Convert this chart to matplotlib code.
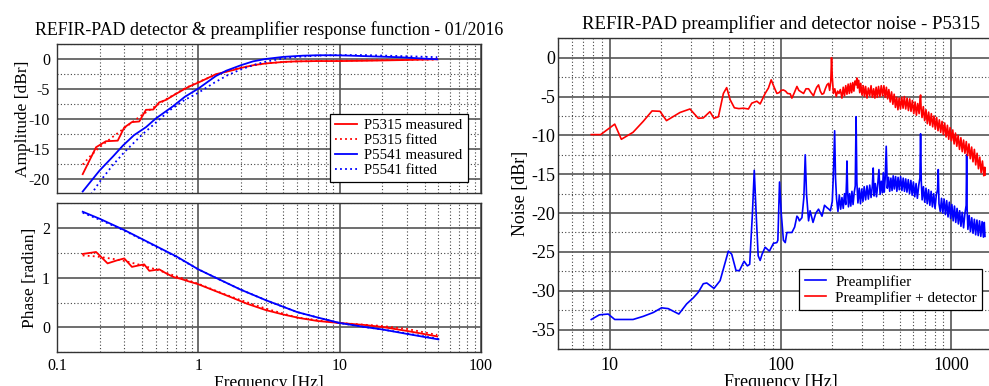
import matplotlib
matplotlib.use("Agg")
import matplotlib.pyplot as plt
from matplotlib.ticker import FixedLocator, FixedFormatter, LogLocator, MultipleLocator, NullFormatter

plt.rcParams['font.family'] = ['Liberation Serif', 'DejaVu Serif']
plt.rcParams['axes.unicode_minus'] = False

RED = '#ff0000'
BLUE = '#0000ff'

# --- response function: amplitude [dBr] ---
freq_p5315 = [0.152, 0.189, 0.222, 0.269, 0.299, 0.339, 0.382, 0.426, 0.480, 0.529,
              0.590, 0.676, 0.795, 0.863, 1.01, 1.33, 1.77, 2.0, 2.5, 3.0, 4.0, 5.0,
              7.0, 10, 15, 20, 30, 49]
amp_p5315_meas = [-19.2, -14.7, -13.7, -13.6, -11.4, -10.5, -10.4, -8.45, -8.4, -7.2,
                  -6.8, -5.95, -5.0, -4.55, -3.85, -2.5, -1.8, -1.45, -0.95, -0.7, -0.45,
                  -0.35, -0.3, -0.3, -0.25, -0.2, -0.12, 0.0]
freq_p5315_fit = [0.152, 0.17, 0.2, 0.25, 0.3, 0.35, 0.4, 0.5, 0.6, 0.7, 0.8, 1.0, 1.3,
                  1.6, 2.0, 2.5, 3.0, 4.0, 5.0, 7.0, 10, 20, 49]
amp_p5315_fit = [-17.6, -16.3, -14.7, -12.9, -11.5, -10.3, -9.3, -7.8, -6.6, -5.7, -4.9,
                 -3.8, -2.7, -2.0, -1.4, -1.0, -0.7, -0.45, -0.35, -0.3, -0.25, -0.15, -0.05]

freq_p5541 = [0.152, 0.2, 0.25, 0.292, 0.35, 0.426, 0.5, 0.658, 0.8, 1.0, 1.33, 1.58,
              2.0, 2.44, 3.0, 4.0, 5.5, 7.0, 9.0, 12, 17, 27, 40, 49]
amp_p5541_meas = [-22.1, -18.6, -16.2, -14.45, -12.7, -11.35, -9.9, -7.9, -6.3, -4.9,
                  -2.8, -1.9, -1.0, -0.35, 0.05, 0.4, 0.6, 0.67, 0.67, 0.6, 0.48, 0.33,
                  0.1, 0.0]
freq_p5541_fit = [0.165, 0.179, 0.2, 0.25, 0.3, 0.4, 0.5, 0.63, 0.8, 1.0, 1.3, 1.6, 2.0,
                  2.5, 3.0, 4.0, 5.0, 7.0, 10, 15, 20, 30, 49]
amp_p5541_fit = [-23.2, -22.2, -20.5, -17.6, -15.5, -12.6, -10.6, -8.5, -6.8, -5.6, -3.9,
                 -2.7, -1.7, -0.9, -0.4, 0.15, 0.4, 0.6, 0.7, 0.7, 0.62, 0.5, 0.35]

# --- response function: phase [radian] ---
freq_ph_p5315 = [0.152, 0.189, 0.228, 0.265, 0.299, 0.339, 0.38, 0.414, 0.45, 0.529, 0.6,
                 0.676, 0.75, 0.85, 1.0, 1.33, 1.77, 2.2, 3.0, 4.0, 5.2, 7.0, 10, 15, 20,
                 30, 49]
ph_p5315_meas = [1.48, 1.52, 1.29, 1.35, 1.39, 1.22, 1.25, 1.27, 1.14, 1.17, 1.08, 1.01,
                 0.98, 0.93, 0.87, 0.73, 0.59, 0.48, 0.35, 0.26, 0.19, 0.13, 0.09, 0.05,
                 0.01, -0.07, -0.18]
freq_ph_p5315_fit = [0.152, 0.19, 0.25, 0.3, 0.4, 0.5, 0.7, 1.0, 1.5, 2.0, 3.0, 5.0, 10,
                     20, 30, 49]
ph_p5315_fit = [1.45, 1.43, 1.38, 1.34, 1.25, 1.17, 1.03, 0.88, 0.68, 0.55, 0.38, 0.2,
                0.09, 0.03, -0.03, -0.15]

freq_ph_p5541 = [0.152, 0.2, 0.3, 0.5, 0.7, 1.0, 1.33, 2.0, 3.0, 5.0, 7.0, 10, 15, 20,
                 30, 50]
ph_p5541_meas = [2.33, 2.19, 1.96, 1.64, 1.43, 1.17, 1.0, 0.76, 0.55, 0.31, 0.2, 0.09,
                 0.01, -0.04, -0.13, -0.24]
ph_p5541_fit = [2.31, 2.17, 1.95, 1.63, 1.42, 1.17, 1.0, 0.76, 0.55, 0.31, 0.2, 0.09,
                0.01, -0.04, -0.12, -0.23]

# --- noise spectra [dBr] ---
freq_pre = [7.8, 8.7, 9.8, 10.7, 12, 13.7, 15.7, 18, 20.1, 22, 25.4, 28.2, 30.9, 33,
            35.3, 37, 40.8, 44.3, 46.3, 49.5, 51.8, 54.9, 57.5, 61.2, 64, 66, 68.5, 70.2,
            72, 74, 76, 78, 81.3, 86.1, 90.9, 95.2, 96.5, 98.7, 101, 104, 106.6, 109,
            114, 116.6, 121, 124.8, 127, 129, 133.5, 137, 139.6, 142, 146, 149, 155,
            161, 167, 175, 181, 187, 192, 196, 201, 204, 207.5, 210, 213,
            217, 221, 225, 229, 233, 237, 241, 243.5, 245, 247, 250, 254, 258, 262,
            266, 270, 274, 277, 280, 284, 289, 294, 299, 304, 309, 315, 321, 327, 333,
            339, 345, 349, 353, 359, 365, 371, 377, 383, 389, 395, 400, 405, 410, 416,
            422, 429, 436, 443, 450, 457, 464, 472, 480, 488, 496, 505, 514, 523, 532,
            541, 550, 560, 570, 580, 590, 600, 611, 622, 633, 645, 655, 661, 667, 675,
            687, 699, 711, 723, 736, 749, 762, 775, 789, 803, 817, 831, 839, 847, 862,
            877, 892, 908, 924, 940, 957, 974, 991, 1008, 1026, 1044, 1062, 1081, 1100,
            1119, 1139, 1159, 1180, 1201, 1222, 1230, 1238, 1251, 1273, 1295, 1318,
            1341, 1365, 1389, 1413, 1438, 1463, 1489, 1515, 1542, 1560, 1575]
noise_pre = [-33.7, -33.1, -33.0, -33.7, -33.7, -33.7, -33.3, -32.8, -32.2, -32.3, -33.0,
             -31.7, -30.9, -30.2, -29.1, -29.0, -29.7, -28.7, -27.2, -24.9, -25.3, -27.4,
             -27.4, -26.2, -26.8, -26.6, -20.0, -14.5, -20.0, -25.5, -26.1, -25.3, -24.4,
             -24.9, -23.9, -23.8, -23.5, -16.0, -20.0, -23.5, -23.8, -22.5, -22.5, -22.5,
             -21.8, -20.4, -20.6, -21.0, -20.6, -18.0, -12.5, -17.5, -21.0, -19.7, -21.2,
             -20.0, -19.5, -20.4, -19.0, -19.3, -19.5, -19.7, -18.5, -15.0, -9.4, -15.5,
             -18.2,
             -19.8, -17.7, -19.5, -18.0, -19.4, -17.5, -18.9, -16.0, -13.3, -17.0, -19.2,
             -17.5, -19.1, -17.2, -18.9, -17.4, -16.5, -7.6, -16.0, -18.7, -16.8, -18.8,
             -16.9, -18.5, -16.6, -18.3, -16.5, -18.2, -16.4, -18.0, -16.5, -14.2, -17.8,
             -16.2, -17.9, -16.3, -14.4, -17.6, -15.9, -17.4, -14.8, -17.3, -15.6, -11.4,
             -16.8, -15.4, -17.2, -15.5, -17.1, -15.2, -16.9, -15.3, -17.2, -15.4, -17.0,
             -15.3, -17.1, -15.5, -17.2, -15.6, -17.3, -15.7, -17.5, -15.8, -17.7, -16.0,
             -17.9, -16.2, -18.1, -16.4, -15.5, -9.8, -15.8, -18.3, -16.6, -18.6, -16.8,
             -18.8, -17.0, -19.0, -17.2, -19.2, -17.5, -19.4, -17.7, -17.0, -14.4, -18.8,
             -19.8, -18.1, -20.0, -18.2, -20.2, -18.4, -20.5, -18.6, -20.7, -18.9, -21.0,
             -19.1, -21.2, -19.4, -21.4, -19.7, -21.7, -19.9, -21.9, -20.1, -19.0, -12.5,
             -19.5, -22.1, -20.3, -22.4, -20.6, -22.6, -20.8, -22.8, -20.9, -22.9, -21.0,
             -23.0, -21.1, -23.1, -21.2, -23.0]

freq_det = [7.8, 8.85, 10.7, 11.7, 13.7, 15.7, 17.7, 19.7, 21.5, 25.8, 29.5, 33, 35.3,
            38.6, 40.8, 43.3, 46.3, 48.4, 50.7, 53.7, 57, 60.7, 64.9, 67.9, 72.7, 76,
            81.3, 85, 88.2, 91.8, 95.2, 98, 101, 104, 107, 110, 114, 116.6, 120, 124.8,
            128, 132, 136.5, 141, 146, 151, 156, 160, 163, 167, 171, 175, 179, 183, 187,
            191, 194, 197, 199, 201, 204, 208, 212, 216, 220, 224,
            229, 233, 237, 241, 245, 249, 253, 257, 261, 265, 269, 273, 277, 280, 283,
            287, 291, 295, 300, 305, 310, 315, 321, 327, 333, 339, 345, 351, 357, 363,
            369, 375, 382, 389, 396, 403, 410, 417, 424, 431, 439, 447, 455, 463, 471,
            479, 487, 495, 504, 513, 522, 531, 541, 551, 561, 571, 581, 592, 603, 614,
            625, 636, 648, 656, 661, 666, 674, 686, 698, 711, 724, 737, 750, 764, 778,
            792, 806, 821, 836, 851, 867, 883, 899, 915, 932, 949, 966, 984, 1002, 1020,
            1039, 1058, 1077, 1097, 1117, 1138, 1159, 1180, 1202, 1224, 1246, 1269, 1292,
            1316, 1340, 1365, 1390, 1416, 1442, 1468, 1495, 1522, 1550, 1570, 1580]
noise_det = [-9.9, -9.9, -8.55, -10.5, -9.6, -8.2, -6.85, -6.9, -8.1, -7.05, -6.6, -7.8,
             -7.75, -6.95, -7.8, -7.6, -4.6, -3.85, -5.4, -6.45, -6.55, -6.5, -6.6, -5.85,
             -5.6, -5.95, -4.6, -3.9, -2.85, -3.8, -4.6, -4.5, -4.2, -4.15, -4.3, -4.6,
             -4.65, -5.2, -4.6, -3.7, -4.2, -4.4, -4.6, -4.0, -4.0, -4.5, -4.9, -4.2, -3.8,
             -3.5, -4.3, -4.7, -4.6, -4.0, -3.5, -3.3, -4.2, -3.0, 0.0, -2.5, -4.6, -4.0,
             -5.0, -4.3, -4.6, -4.1,
             -5.2, -3.8, -4.9, -3.6, -4.7, -3.4, -4.6, -3.3, -4.5, -3.2, -4.3, -3.0, -3.5,
             -2.6, -3.9, -2.9, -4.5, -3.3, -4.8, -3.6, -5.0, -3.7, -5.2, -3.9, -4.9, -3.6,
             -5.1, -4.0, -5.2, -3.8, -5.1, -3.7, -5.0, -3.6, -4.9, -3.6, -5.1, -3.8, -5.3,
             -4.1, -5.7, -4.4, -6.0, -4.7, -6.4, -5.1, -6.7, -5.2, -6.6, -5.1, -6.5, -5.0,
             -6.6, -5.2, -6.8, -5.3, -6.9, -5.5, -7.2, -5.7, -7.4, -5.9, -7.2, -5.4, -4.8,
             -6.6, -7.7, -6.3, -8.1, -6.7, -8.5, -7.0, -8.7, -7.2, -8.9, -7.5, -9.2, -7.7,
             -9.4, -8.0, -9.6, -8.2, -9.9, -8.4, -10.2, -8.7, -10.5, -9.0, -10.7, -9.3,
             -11.1, -9.7, -11.4, -10.0, -11.8, -10.3, -12.1, -10.6, -12.3, -10.8, -12.6,
             -11.1, -13.0, -11.5, -13.4, -11.8, -13.8, -12.3, -14.3, -12.8, -14.8, -13.3,
             -15.2, -14.1, -15.1]

fit_style = (0, (1, 1.8))


def style_axes(ax, ymajor, yminor, tick_size, ypad):
    ax.set_xscale('log')
    ax.xaxis.set_minor_locator(LogLocator(base=10, subs=range(2, 10), numticks=50))
    ax.xaxis.set_minor_formatter(NullFormatter())
    ax.yaxis.set_major_locator(MultipleLocator(ymajor))
    ax.yaxis.set_minor_locator(MultipleLocator(yminor))
    ax.grid(which='major', color='#555555', linewidth=1.2, linestyle='-')
    ax.grid(which='minor', color='#444444', linewidth=0.8, linestyle=(0, (1, 2)))
    ax.tick_params(which='both', length=0, labelsize=tick_size)
    ax.tick_params(axis='y', pad=ypad)
    ax.set_axisbelow(True)
    for sp in ax.spines.values():
        sp.set_color('#333333')
        sp.set_linewidth(1.0)


fig = plt.figure(figsize=(9.89, 3.86), dpi=100)
W, H = 989.0, 386.0

ax_amp = fig.add_axes([57 / W, 1 - 193.3 / H, 424 / W, 149 / H])
ax_ph = fig.add_axes([57 / W, 1 - 352.3 / H, 424 / W, 149 / H])
ax_noise = fig.add_axes([558.3 / W, 1 - 349 / H, 444.4 / W, 310.7 / H])

# amplitude
style_axes(ax_amp, 5, 2.5, 11.5, 5)
ax_amp.plot(freq_p5315, amp_p5315_meas, color=RED, lw=1.3, label='P5315 measured')
ax_amp.plot(freq_p5315_fit, amp_p5315_fit, color=RED, lw=1.3, ls=fit_style, label='P5315 fitted')
ax_amp.plot(freq_p5541, amp_p5541_meas, color=BLUE, lw=1.3, label='P5541 measured')
ax_amp.plot(freq_p5541_fit, amp_p5541_fit, color=BLUE, lw=1.3, ls=fit_style, label='P5541 fitted')
ax_amp.set_xlim(0.1, 100)
ax_amp.set_ylim(-22.4, 2.5)
ax_amp.xaxis.set_major_locator(FixedLocator([0.1, 1, 10, 100]))
ax_amp.xaxis.set_major_formatter(NullFormatter())
ax_amp.set_ylabel('Amplitude [dBr]', fontsize=12.5)
ax_amp.yaxis.set_label_coords(-0.062, 0.5)
ax_amp.set_title('REFIR-PAD detector & preamplifier response function - 01/2016',
                 fontsize=12.9, pad=7)
leg = ax_amp.legend(loc='lower right', bbox_to_anchor=(0.969, 0.076), borderaxespad=0,
                    fontsize=10.6, fancybox=False, framealpha=1, edgecolor='black',
                    handlelength=1.5, handletextpad=0.5, labelspacing=0.1,
                    borderpad=0.35)
leg.get_frame().set_linewidth(0.9)

# phase
style_axes(ax_ph, 1, 0.5, 11.5, 5)
ax_ph.plot(freq_ph_p5315, ph_p5315_meas, color=RED, lw=1.3)
ax_ph.plot(freq_ph_p5315_fit, ph_p5315_fit, color=RED, lw=1.3, ls=fit_style)
ax_ph.plot(freq_ph_p5541, ph_p5541_meas, color=BLUE, lw=1.3)
ax_ph.plot(freq_ph_p5541, ph_p5541_fit, color=BLUE, lw=1.3, ls=fit_style)
ax_ph.set_xlim(0.1, 100)
ax_ph.set_ylim(-0.5, 2.5)
ax_ph.xaxis.set_major_locator(FixedLocator([0.1, 1, 10, 100]))
ax_ph.xaxis.set_major_formatter(FixedFormatter(['0.1', '1', '10', '100']))
ax_ph.tick_params(axis='x', pad=4)
ax_ph.set_ylabel('Phase [radian]', fontsize=12.5)
ax_ph.yaxis.set_label_coords(-0.045, 0.5)
ax_ph.set_xlabel('Frequency [Hz]', fontsize=12.5, labelpad=1)

# noise
style_axes(ax_noise, 5, 2.5, 13, 2)
ax_noise.plot(freq_pre, noise_pre, color=BLUE, lw=1.2, label='Preamplifier')
ax_noise.plot(freq_det, noise_det, color=RED, lw=1.2, label='Preamplifier + detector')
ax_noise.set_xlim(5, 2000)
ax_noise.set_ylim(-37.5, 2.5)
ax_noise.xaxis.set_major_locator(FixedLocator([10, 100, 1000]))
ax_noise.xaxis.set_major_formatter(FixedFormatter(['10', '100', '1000']))
ax_noise.tick_params(axis='x', pad=6)
ax_noise.set_ylabel('Noise [dBr]', fontsize=13)
ax_noise.yaxis.set_label_coords(-0.066, 0.5)
ax_noise.set_xlabel('Frequency [Hz]', fontsize=13, labelpad=0)
ax_noise.set_title('REFIR-PAD preamplifier and detector noise - P5315', fontsize=13.5, pad=7)
leg2 = ax_noise.legend(loc='lower right', bbox_to_anchor=(0.954, 0.1255), borderaxespad=0,
                       fontsize=11, fancybox=False, framealpha=1, edgecolor='black',
                       handlelength=1.4, handletextpad=0.6, labelspacing=0.15,
                       borderpad=0.35)
leg2.get_frame().set_linewidth(0.9)

fig.savefig('out.png', dpi=100)
